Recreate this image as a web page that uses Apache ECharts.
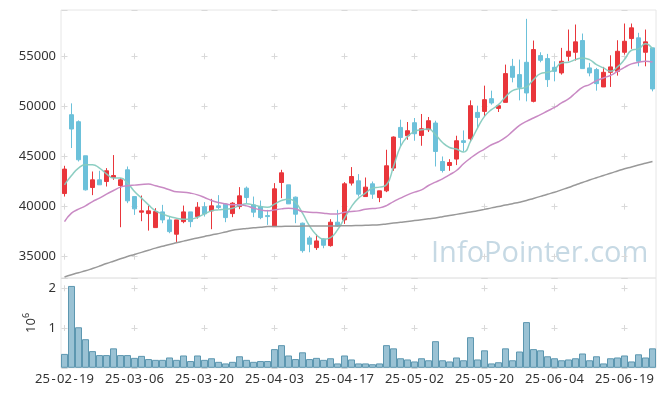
<!DOCTYPE html>
<html>
<head>
<meta charset="utf-8">
<script src="https://cdn.jsdelivr.net/npm/echarts@6/dist/echarts.min.js"></script>
<style>html,body{margin:0;padding:0;background:#fff}#c{width:665px;height:396px}</style>
</head>
<body>
<div id="c"></div>
<script>
const dates = ['25-02-19','25-02-20','25-02-21','25-02-24','25-02-25','25-02-26','25-02-27','25-02-28','25-03-04','25-03-05',
'25-03-06','25-03-07','25-03-10','25-03-11','25-03-12','25-03-13','25-03-14','25-03-17','25-03-18','25-03-19',
'25-03-20','25-03-21','25-03-24','25-03-25','25-03-26','25-03-27','25-03-28','25-03-31','25-04-01','25-04-02',
'25-04-03','25-04-04','25-04-07','25-04-08','25-04-09','25-04-10','25-04-11','25-04-14','25-04-15','25-04-16',
'25-04-17','25-04-18','25-04-21','25-04-22','25-04-23','25-04-24','25-04-25','25-04-28','25-04-29','25-04-30',
'25-05-02','25-05-07','25-05-08','25-05-09','25-05-12','25-05-13','25-05-14','25-05-15','25-05-16','25-05-19',
'25-05-20','25-05-21','25-05-22','25-05-23','25-05-26','25-05-27','25-05-28','25-05-29','25-05-30','25-06-02',
'25-06-04','25-06-05','25-06-09','25-06-10','25-06-11','25-06-12','25-06-13','25-06-16','25-06-17','25-06-18',
'25-06-19','25-06-20','25-06-23','25-06-24','25-06-25'];

// [open, close, low, high]
const ohlc = [
[41300,43740,41000,44070],[49170,47740,45840,50300],[48470,44670,44500,48600],[45070,41670,41600,45070],[41900,42670,41140,43500],
[42670,42170,42170,43570],[42500,43570,42000,43840],[42900,43100,42670,45140],[42100,42670,37940,42840],[43670,40570,40340,44000],
[41000,39770,39170,41000],[39440,39570,38540,41100],[39300,39570,37600,40100],[37900,39500,37900,39840],[39470,38670,38340,40170],
[38670,37500,37340,39000],[37240,38670,36470,38670],[38500,39470,38340,40100],[39470,38500,37940,39470],[39000,39940,38800,40440],
[39970,39270,39000,40440],[39570,40070,37740,40770],[40070,39900,39740,41140],[40240,38900,38440,40340],[39300,40340,38940,40440],
[40000,41070,39740,41940],[41840,40900,40340,42000],[40170,39440,38940,41000],[40000,38900,38740,40600],[39100,39000,38170,39670],
[38000,41770,38000,42340],[42400,43370,40840,43670],[42170,40270,40270,42170],[40940,39240,38340,41000],[38340,35600,35400,38400],
[36870,36240,35440,37070],[35900,36570,35670,37240],[36770,36140,35840,36840],[36100,38440,36000,38740],[38440,38070,38000,39670],
[38670,42270,38270,42440],[42340,43000,42100,43940],[42570,41240,41000,43240],[41000,41940,41000,42900],[42270,41240,40770,42500],
[40900,41570,40440,41570],[41570,44070,41440,45670],[43840,46940,43570,47000],[47900,46900,46000,48670],[47070,47570,46670,48440],
[48370,47270,46570,48840],[47100,47770,46070,49240],[47670,48570,47440,48940],[48340,45500,44000,48570],[44500,43600,43400,45000],
[44100,44400,43570,44730],[44740,46570,44140,47070],[46570,46400,45500,47600],[46770,50070,46440,50600],[49400,48900,47840,50070],
[49500,50670,49000,52070],[50770,50340,50170,51570],[49800,50070,49440,50170],[50400,53270,50400,54170],[54000,52900,52400,54740],
[53170,51900,50600,54670],[54400,51340,50500,58740],[50500,55670,50400,56570],[55070,54600,54400,55400],[54770,52670,51940,55240],
[53900,53500,52500,54500],[53340,54500,53170,55840],[55000,55500,54500,57670],[55400,56440,54570,58170],[56570,53770,53770,57270],
[53840,53340,53000,54340],[53670,52270,51570,53840],[51940,53400,51940,53940],[53400,53940,51940,55100],[53500,55500,53070,56600],
[55400,56500,55170,58270],[56770,57840,55740,58270],[56840,54500,54000,57340],[55400,56440,54000,57670],[55840,51740,51500,55840]];

const volume = [350000,2060000,1020000,720000,420000,320000,320000,490000,320000,320000,
250000,300000,220000,200000,200000,260000,200000,310000,170000,310000,
200000,240000,150000,110000,150000,290000,200000,150000,170000,170000,
470000,570000,310000,220000,390000,220000,250000,200000,240000,110000,
310000,210000,110000,110000,90000,110000,570000,490000,240000,210000,
160000,240000,190000,670000,190000,160000,260000,190000,770000,210000,
440000,110000,140000,490000,190000,410000,1150000,470000,440000,290000,
240000,190000,210000,240000,360000,190000,290000,110000,240000,260000,
310000,160000,340000,260000,490000];

const maShort = [42170,43100,43840,44170,44170,43840,43270,42840,42840,42340,
41500,40840,40170,39570,39270,39000,38840,38740,38740,38940,
39270,39570,39670,39740,39840,40100,40270,40170,40000,39940,
40240,40600,40740,40400,39340,38070,37170,36740,36900,37670,
38840,40000,40840,41340,41840,41940,42170,44000,46000,47000,
47500,47670,47740,47170,46400,45900,45740,45440,46500,47840,
49000,49670,50170,50940,51570,51770,51940,52670,53270,53400,
53670,54340,54400,54670,54840,54670,54170,53840,53500,53940,
54670,55600,55740,56240,55740];

const maMid = [38500,39340,39740,40070,40500,40840,41240,41600,41940,42070,
42140,42200,42240,42070,41900,41670,41470,41440,41340,41170,
40900,40600,40400,40270,40170,40170,40070,39840,39670,39570,
39670,39770,39840,39770,39500,39440,39400,39340,39270,39270,
39440,39500,39570,39740,39800,39870,40100,40500,40840,41170,
41440,41670,42100,42440,42770,43170,43600,44270,44840,45340,
45740,46170,46470,46900,47500,48100,48500,48840,49170,49540,
49900,50340,50740,51340,51900,52170,52570,52840,53100,53500,
53900,54240,54400,54500,54440];

const maLong = [32970,33200,33400,33590,33820,34060,34310,34550,34790,35010,
35220,35430,35640,35850,36030,36210,36380,36550,36720,36870,
37020,37170,37300,37470,37640,37740,37810,37880,37940,38000,
38010,38020,38030,38040,38050,38050,38060,38070,38070,38070,
38080,38090,38110,38130,38150,38190,38270,38350,38430,38510,
38600,38690,38780,38870,38980,39100,39220,39340,39460,39580,
39720,39870,40000,40150,40290,40430,40600,40810,41020,41230,
41430,41670,41910,42160,42400,42650,42880,43100,43330,43550,
43770,43950,44140,44320,44500];

const priceTicks = [35000, 40000, 45000, 50000, 55000];
const volumeTicks = [1, 2];

const FONT = 'Noto Sans';
const crossColor = '#d9d9d9';
const chart = echarts.init(document.getElementById('c'));
chart.setOption({
  animation: false,
  backgroundColor: '#fff',
  textStyle: { fontFamily: FONT },
  grid: [
    { left: 61, right: 9, top: 10, height: 268, show: true, borderColor: '#e6e6e6', borderWidth: 1, backgroundColor: 'transparent' },
    { left: 61, right: 9, top: 278, height: 89.8, show: true, borderColor: '#e6e6e6', borderWidth: 1, backgroundColor: 'transparent' }
  ],
  graphic: [{
    type: 'text', left: 431, top: 239, z: 0, silent: true,
    style: { text: 'InfoPointer.com', font: '29px "Open Sans"', fill: '#c6d9e4' }
  }],
  xAxis: [
    { type: 'category', gridIndex: 0, data: dates, boundaryGap: true,
      axisLine: { show: false }, axisTick: { show: false }, axisLabel: { show: false },
      splitLine: { show: true, interval: 9, alignWithLabel: true,
        lineStyle: { color: crossColor, width: 1, type: [6, 44.1], dashOffset: 6.8 } } },
    { type: 'category', gridIndex: 1, data: dates, boundaryGap: true,
      axisLine: { show: false }, axisTick: { show: false },
      axisLabel: { interval: 9, color: '#333', fontSize: 13, fontFamily: FONT, margin: 5,
        formatter: v => v.split('-').join('{d|-}'),
        rich: { d: { fontSize: 13, fontFamily: FONT, color: '#333', padding: [0, 1.5, 0, 1.5] } } },
      splitLine: { show: true, interval: 9, alignWithLabel: true,
        lineStyle: { color: crossColor, width: 1, type: [6, 33.7], dashOffset: 32.4 } } }
  ],
  yAxis: [
    { type: 'value', gridIndex: 0, min: 32870, max: 59620, splitNumber: 5,
      axisLine: { show: false }, axisTick: { show: false },
      axisLabel: { color: '#333', fontSize: 13, fontFamily: FONT, margin: 5, showMinLabel: false, showMaxLabel: false,
        formatter: v => priceTicks.indexOf(v) >= 0 ? String(v) : '' },
      splitLine: { show: true, lineStyle: { color: crossColor, width: 1, type: [6, 64], dashOffset: 69.5 } } },
    { type: 'value', gridIndex: 1, min: 0, max: 2260000, interval: 1000000,
      axisLine: { show: false }, axisTick: { show: false },
      axisLabel: { color: '#333', fontSize: 13, fontFamily: FONT, margin: 5, showMinLabel: false, showMaxLabel: false,
        formatter: v => volumeTicks.indexOf(v / 1e6) >= 0 ? String(v / 1e6) : '' },
      name: '{b|10}{s|6}', nameLocation: 'middle', nameRotate: 90, nameGap: 18,
      nameTextStyle: { color: '#333', rich: { b: { fontSize: 13, fontFamily: FONT, color: '#333' }, s: { fontSize: 9, fontFamily: FONT, color: '#333', padding: [0, 0, 9, 0] } } },
      splitLine: { show: true, lineStyle: { color: crossColor, width: 1, type: [6, 64], dashOffset: 69.5 } } }
  ],
  series: [
    { type: 'candlestick', xAxisIndex: 0, yAxisIndex: 0, data: ohlc, barWidth: 5,
      itemStyle: { color: '#e9363b', color0: '#6cc1da', borderColor: '#e9363b', borderColor0: '#6cc1da', borderWidth: 1 } },
    { type: 'line', xAxisIndex: 0, yAxisIndex: 0, data: maShort, smooth: true, showSymbol: false,
      lineStyle: { color: '#86cbbf', width: 1.5, opacity: 0.95 } },
    { type: 'line', xAxisIndex: 0, yAxisIndex: 0, data: maMid, smooth: true, showSymbol: false,
      lineStyle: { color: '#c98ac4', width: 1.5 } },
    { type: 'line', xAxisIndex: 0, yAxisIndex: 0, data: maLong, smooth: true, showSymbol: false,
      lineStyle: { color: '#999999', width: 1.5 } },
    { type: 'bar', xAxisIndex: 1, yAxisIndex: 1, data: volume, barCategoryGap: '0%',
      itemStyle: { color: '#9ac2d4', borderColor: '#5d97b0', borderWidth: 1 } }
  ]
});
</script>
</body>
</html>
